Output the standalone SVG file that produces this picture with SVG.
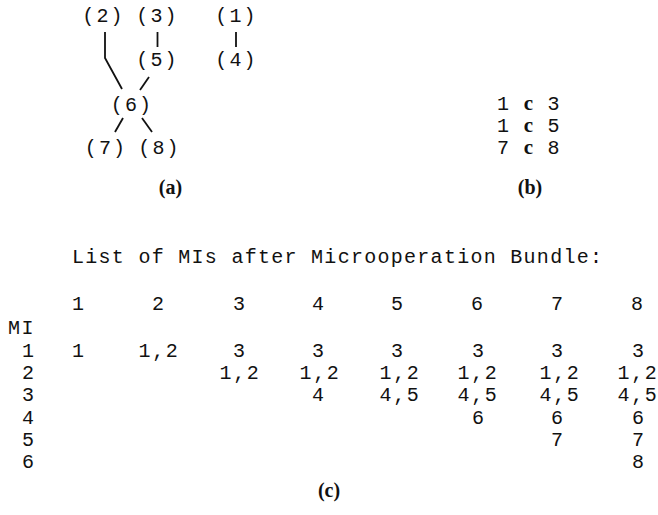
<svg xmlns="http://www.w3.org/2000/svg" width="658" height="515" viewBox="0 0 658 515">
<style>
.m{font-family:"Liberation Mono","DejaVu Sans Mono",monospace;font-size:20px;fill:#111;letter-spacing:2.2px;text-anchor:middle}
.p{letter-spacing:1.6px}
.t{font-family:"Liberation Mono","DejaVu Sans Mono",monospace;font-size:20px;fill:#111}
.cap{font-family:"Liberation Serif","Times New Roman",serif;font-size:20px;font-weight:bold;fill:#111;text-anchor:middle}
.bc{font-family:"Liberation Serif","Times New Roman",serif;font-weight:bold;font-size:21px}
.c{stroke:#111;stroke-width:1.8;fill:none}
</style>
<rect width="658" height="515" fill="#fff"/>
<g id="connectors">
<polyline class="c" points="105,32 105,58 122,89"/>
<line class="c" x1="157.5" y1="32" x2="157.5" y2="47"/>
<line class="c" x1="236" y1="32" x2="236" y2="47"/>
<line class="c" x1="149" y1="77" x2="140" y2="90"/>
<line class="c" x1="123" y1="118" x2="115" y2="132"/>
<line class="c" x1="142" y1="118" x2="152" y2="132"/>
</g>
<g id="node2"><text class="m" x="103.5" y="22">(2)</text></g>
<g id="node3"><text class="m" x="157.5" y="22">(3)</text></g>
<g id="node1"><text class="m" x="236.5" y="22">(1)</text></g>
<g id="node5"><text class="m" x="157.5" y="66">(5)</text></g>
<g id="node4"><text class="m" x="236.5" y="66">(4)</text></g>
<g id="node6"><text class="m" x="132" y="111">(6)</text></g>
<g id="node7"><text class="m" x="106" y="154">(7)</text></g>
<g id="node8"><text class="m" x="159.5" y="154">(8)</text></g>
<text class="cap" x="170.5" y="194">(a)</text>
<g id="part-b">
<text class="m" style="letter-spacing:1.3px" x="529" y="110">1 <tspan class="bc">c</tspan> 3</text>
<text class="m" style="letter-spacing:1.3px" x="529" y="132">1 <tspan class="bc">c</tspan> 5</text>
<text class="m" style="letter-spacing:1.3px" x="529" y="154">7 <tspan class="bc">c</tspan> 8</text>
</g>
<text class="cap" x="530" y="194">(b)</text>
<text class="t" x="72" y="263" textLength="530" lengthAdjust="spacing">List of MIs after Microoperation Bundle:</text>
<g id="table">
<text class="m" x="79" y="310">1</text>
<text class="m" x="159" y="310">2</text>
<text class="m" x="240" y="310">3</text>
<text class="m" x="319" y="310">4</text>
<text class="m" x="398" y="310">5</text>
<text class="m" x="478" y="310">6</text>
<text class="m" x="558" y="310">7</text>
<text class="m" x="638" y="310">8</text>
<text class="t" x="8" y="334" letter-spacing="1.5">MI</text>
<text class="m" x="29" y="357">1</text>
<text class="m" x="29" y="379">2</text>
<text class="m" x="29" y="401">3</text>
<text class="m" x="29" y="424">4</text>
<text class="m" x="29" y="446">5</text>
<text class="m" x="29" y="468">6</text>
<text class="m" x="79" y="357">1</text>
<text class="m p" x="159" y="357">1,2</text>
<text class="m" x="240" y="357">3</text>
<text class="m" x="319" y="357">3</text>
<text class="m" x="398" y="357">3</text>
<text class="m" x="479" y="357">3</text>
<text class="m" x="558" y="357">3</text>
<text class="m" x="639" y="357">3</text>
<text class="m p" x="240" y="379">1,2</text>
<text class="m p" x="320" y="379">1,2</text>
<text class="m p" x="400" y="379">1,2</text>
<text class="m p" x="478" y="379">1,2</text>
<text class="m p" x="560" y="379">1,2</text>
<text class="m p" x="638" y="379">1,2</text>
<text class="m" x="319" y="401">4</text>
<text class="m p" x="400" y="401">4,5</text>
<text class="m p" x="478" y="401">4,5</text>
<text class="m p" x="560" y="401">4,5</text>
<text class="m p" x="638" y="401">4,5</text>
<text class="m" x="479" y="424">6</text>
<text class="m" x="558" y="424">6</text>
<text class="m" x="639" y="424">6</text>
<text class="m" x="558" y="446">7</text>
<text class="m" x="639" y="446">7</text>
<text class="m" x="639" y="468">8</text>
</g>
<text class="cap" x="329" y="497">(c)</text>
</svg>
